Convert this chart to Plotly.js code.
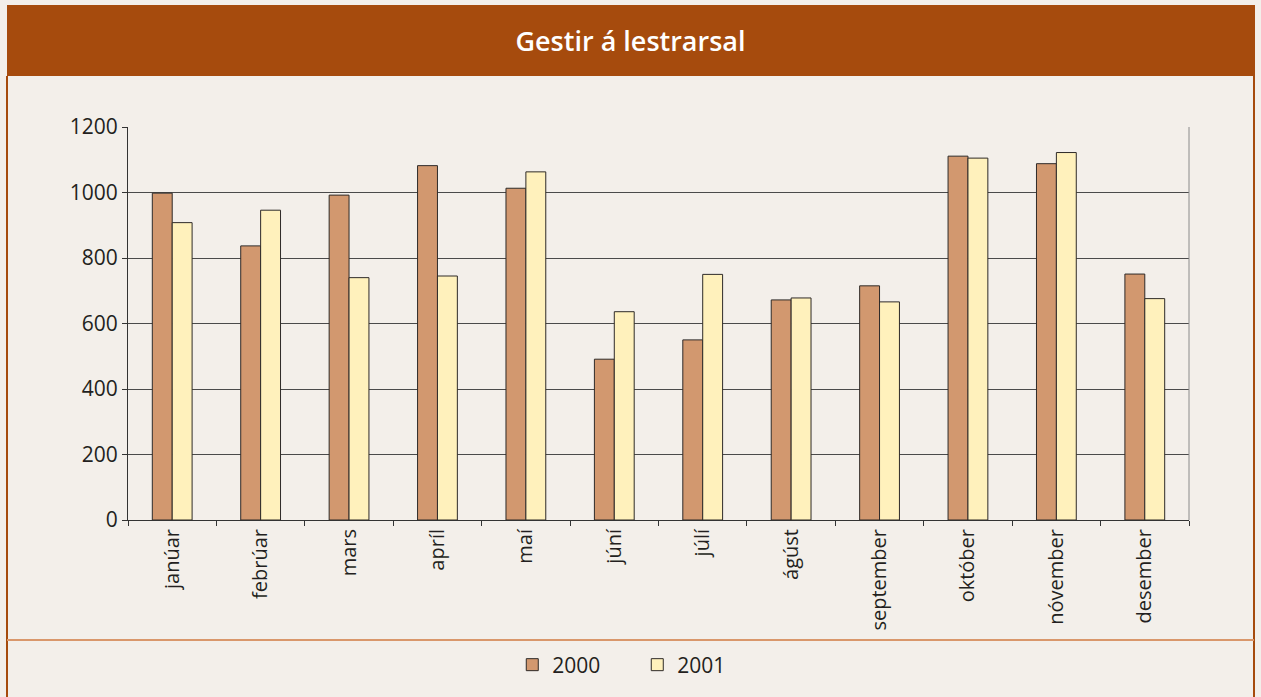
<!DOCTYPE html>
<html>
<head>
<meta charset="utf-8">
<script src="https://cdn.plot.ly/plotly-3.0.1.min.js"></script>
<style>
  html, body { margin: 0; padding: 0; background: #f3efea; }
  #chart { width: 1261px; height: 697px; }
</style>
</head>
<body>
<div id="chart"></div>
<script>
const months = ["janúar", "febrúar", "mars", "apríl", "maí", "júní", "júlí", "ágúst", "september", "október", "nóvember", "desember"];
const visitors2000 = [998, 837, 992, 1082, 1013, 491, 550, 672, 715, 1111, 1088, 751];
const visitors2001 = [908, 946, 740, 745, 1063, 636, 750, 678, 666, 1105, 1122, 676];
const seriesNames = ["2000", "2001"];
const yTicks = [0, 200, 400, 600, 800, 1000, 1200];

const traces = [
  {
    type: "bar", name: seriesNames[0], x: months, y: visitors2000,
    marker: { color: "#d2986f", line: { color: "#2e2a28", width: 1 } },
    hoverinfo: "x+y+name"
  },
  {
    type: "bar", name: seriesNames[1], x: months, y: visitors2001,
    marker: { color: "#fff1bc", line: { color: "#2e2a28", width: 1 } },
    hoverinfo: "x+y+name"
  }
];

const brown = "#a64b0d";
const layout = {
  width: 1261, height: 697,
  margin: { l: 128, r: 72, t: 127, b: 177 },
  paper_bgcolor: "#f3efea",
  plot_bgcolor: "rgba(0,0,0,0)",
  font: { family: "Open Sans, sans-serif", color: "#231f20", size: 19, weight: 500 },
  title: {
    text: "Gestir á lestrarsal",
    font: { family: "Open Sans, sans-serif", size: 27, color: "#ffffff", weight: 600 },
    x: 0.5, xref: "container", xanchor: "center",
    y: 0.9397, yref: "container", yanchor: "middle"
  },
  barmode: "group",
  bargap: 0.55,
  bargroupgap: 0,
  showlegend: true,
  legend: {
    orientation: "h", x: 0.48, xanchor: "center", y: -0.369, yanchor: "middle",
    font: { size: 21, color: "#231f20", weight: 500 },
    entrywidth: 80, entrywidthmode: "pixels",
    bgcolor: "rgba(0,0,0,0)", traceorder: "normal"
  },
  xaxis: {
    type: "category",
    showline: true, linecolor: "#333", linewidth: 1,
    ticks: "outside", tickson: "boundaries", ticklen: 5, tickcolor: "#333",
    tickangle: -90,
    tickfont: { size: 20, color: "#231f20", weight: 500 },
    showgrid: false, zeroline: false, fixedrange: true
  },
  yaxis: {
    range: [0, 1200], tickvals: yTicks,
    showline: true, linecolor: "#333", linewidth: 1,
    ticks: "outside", ticklen: 5, tickcolor: "#333",
    tickfont: { size: 21, color: "#231f20", weight: 500 },
    showgrid: true, gridcolor: "#4a4a4a", gridwidth: 1,
    zeroline: false, fixedrange: true
  },
  shapes: [
    { type: "rect", xref: "paper", yref: "paper", x0: -0.11404, x1: 1.06221, y0: 1.12977, y1: 1.31043,
      fillcolor: brown, line: { width: 0 }, layer: "below" },
    { type: "line", xref: "paper", yref: "paper", x0: -0.11404, x1: -0.11404, y0: 1.13, y1: -0.46,
      line: { color: brown, width: 2 } },
    { type: "line", xref: "paper", yref: "paper", x0: 1.06126, x1: 1.06126, y0: 1.13, y1: -0.46,
      line: { color: brown, width: 2 } },
    { type: "line", xref: "paper", yref: "paper", x0: -0.11404, x1: 1.06126, y0: -0.30534, y1: -0.30534,
      line: { color: "#d9976b", width: 2 } },
    { type: "line", xref: "paper", yref: "paper", x0: 1, x1: 1, y0: 0, y1: 1,
      line: { color: "#8a8a8a", width: 1 } }
  ]
};

Plotly.newPlot("chart", traces, layout, { displayModeBar: false, staticPlot: true });
</script>
</body>
</html>
